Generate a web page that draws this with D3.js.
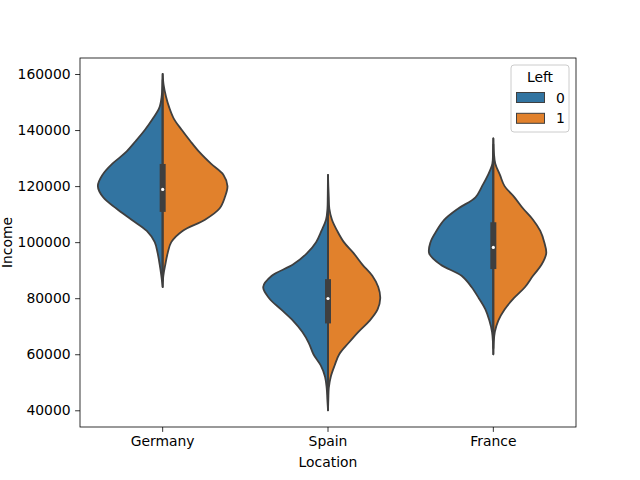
<!DOCTYPE html>
<html lang="en">
  <head>
    <meta charset="UTF-8" />
    <title>Income by location, split violin</title>
    <script src="https://d3js.org/d3.v7.min.js"></script>
    <style>
      body { margin: 0; background: #fff; }
      text { font-family: "DejaVu Sans", sans-serif; fill: #000; }
    </style>
  </head>
  <body>
    <svg width="640" height="480"></svg>
    <script>
      // categories and legend groups
      const locations = ["Germany", "Spain", "France"];
      const leftGroups = ["0", "1"];
      const yTicks = [40000, 60000, 80000, 100000, 120000, 140000, 160000];
      const yDomain = [34036, 165714];

      // income levels where the violin outlines were read (per location)
      const germanyIncome = [84000, 88000, 92000, 96000, 100000, 104000, 108000, 112000, 116000, 120000,
        124000, 128000, 132000, 136000, 140000, 144000, 148000, 152000, 156000, 160000];
      const spainIncome = [40000, 44000, 48000, 52000, 56000, 60000, 64000, 68000, 72000, 76000, 80000,
        84000, 88000, 92000, 96000, 100000, 104000, 108000, 112000, 116000, 120000, 124000];
      const franceIncome = [60000, 64000, 68000, 72000, 76000, 80000, 84000, 88000, 92000, 96000,
        100000, 104000, 108000, 112000, 116000, 120000, 124000, 128000, 132000, 137000];

      // relative half-widths (density) for Left = 0 and Left = 1
      const germanyLeft0 = [0, 0.02, 0.045, 0.075, 0.12, 0.24, 0.47, 0.7, 0.9, 0.98,
        0.91, 0.76, 0.56, 0.41, 0.27, 0.15, 0.05, 0.015, 0.005, 0];
      const germanyLeft1 = [0, 0.01, 0.04, 0.075, 0.13, 0.3, 0.64, 0.86, 0.94, 0.98,
        0.92, 0.73, 0.56, 0.42, 0.29, 0.17, 0.1, 0.05, 0.015, 0];
      const spainLeft0 = [0, 0.01, 0.02, 0.045, 0.11, 0.22, 0.29, 0.39, 0.53, 0.71, 0.89,
        0.98, 0.85, 0.53, 0.32, 0.18, 0.1, 0.03, 0.008, 0.004, 0.002, 0];
      const spainLeft1 = [0, 0.005, 0.012, 0.042, 0.1, 0.17, 0.31, 0.46, 0.63, 0.75, 0.79,
        0.76, 0.67, 0.52, 0.39, 0.24, 0.14, 0.06, 0.02, 0.012, 0.005, 0];
      const franceLeft0 = [0, 0.005, 0.02, 0.06, 0.12, 0.22, 0.33, 0.48, 0.8, 0.97,
        0.95, 0.86, 0.74, 0.53, 0.27, 0.17, 0.08, 0.015, 0.005, 0];
      const franceLeft1 = [0, 0.005, 0.023, 0.075, 0.17, 0.31, 0.48, 0.6, 0.73, 0.8,
        0.77, 0.71, 0.6, 0.45, 0.32, 0.17, 0.1, 0.03, 0.008, 0];

      // inner box statistics per location
      const boxQ1 = [110800, 71000, 90400];
      const boxQ3 = [127900, 86800, 107100];
      const boxMedian = [118800, 79900, 98100];
      const whiskerLow = [86000, 42000, 62000];
      const whiskerHigh = [158000, 122000, 135000];

      const colors = ["#3274a1", "#e1812c"];
      const edge = "#3f3f3f";

      const profiles = [
        { loc: "Germany", income: germanyIncome, sides: [germanyLeft0, germanyLeft1] },
        { loc: "Spain", income: spainIncome, sides: [spainLeft0, spainLeft1] },
        { loc: "France", income: franceIncome, sides: [franceLeft0, franceLeft1] },
      ];

      const svg = d3.select("svg");
      const margin = { left: 80, right: 64, top: 58, bottom: 53 };
      const W = 640, H = 480;

      const x = d3.scaleBand().domain(locations).range([margin.left, W - margin.right]).padding(0);
      const y = d3.scaleLinear().domain(yDomain).range([H - margin.bottom, margin.top]);
      const halfMax = x.bandwidth() * 0.4;

      // violins
      const g = svg.append("g").attr("class", "violins");
      profiles.forEach(function (p) {
        const cx = x(p.loc) + x.bandwidth() / 2;
        p.sides.forEach(function (w, i) {
          const dir = i === 0 ? -1 : 1;
          const pts = p.income.map((v, k) => ({ v: v, w: w[k] }));
          const area = d3.area()
            .y(d => y(d.v))
            .x0(cx)
            .x1(d => cx + dir * d.w * halfMax)
            .curve(d3.curveCatmullRom);
          g.append("path")
            .attr("d", area(pts))
            .attr("fill", colors[i])
            .attr("stroke", edge)
            .attr("stroke-width", 1.8)
            .attr("stroke-linejoin", "round");
        });
      });

      // inner box
      const box = svg.append("g").attr("class", "box");
      locations.forEach(function (loc, i) {
        const cx = x(loc) + x.bandwidth() / 2;
        box.append("line")
          .attr("x1", cx).attr("x2", cx)
          .attr("y1", y(whiskerLow[i])).attr("y2", y(whiskerHigh[i]))
          .attr("stroke", edge).attr("stroke-width", 1.8);
        box.append("rect")
          .attr("x", cx - 3).attr("width", 6)
          .attr("y", y(boxQ3[i])).attr("height", y(boxQ1[i]) - y(boxQ3[i]))
          .attr("fill", edge);
        box.append("circle")
          .attr("cx", cx).attr("cy", y(boxMedian[i])).attr("r", 1.6)
          .attr("fill", "#fff");
      });

      // axes
      const xAxis = svg.append("g")
        .attr("transform", `translate(0,${H - margin.bottom})`)
        .call(d3.axisBottom(x).tickSize(4.9).tickPadding(4.5));
      const yAxis = svg.append("g")
        .attr("transform", `translate(${margin.left},0)`)
        .call(d3.axisLeft(y).tickValues(yTicks).tickFormat(d3.format("d")).tickSize(4.9).tickPadding(4.5));
      [xAxis, yAxis].forEach(a => {
        a.select(".domain").remove();
        a.selectAll("line").attr("stroke", "#000").attr("stroke-width", 0.8);
        a.selectAll("text").attr("font-size", 13.9).attr("font-family", "DejaVu Sans").attr("fill", "#000");
      });

      // frame
      svg.append("rect")
        .attr("x", margin.left).attr("y", margin.top)
        .attr("width", W - margin.left - margin.right)
        .attr("height", H - margin.top - margin.bottom)
        .attr("fill", "none").attr("stroke", "#000").attr("stroke-width", 0.8);

      // axis titles
      svg.append("text")
        .attr("x", (margin.left + W - margin.right) / 2).attr("y", 467)
        .attr("text-anchor", "middle").attr("font-size", 13.9)
        .text("Location");
      svg.append("text")
        .attr("transform", `translate(11.5,${(margin.top + H - margin.bottom) / 2}) rotate(-90)`)
        .attr("text-anchor", "middle").attr("font-size", 13.9)
        .text("Income");

      // legend
      const lg = svg.append("g").attr("transform", "translate(511,65)");
      lg.append("rect")
        .attr("width", 58).attr("height", 67).attr("rx", 3)
        .attr("fill", "#fff").attr("fill-opacity", 0.8)
        .attr("stroke", "#ccc").attr("stroke-width", 1);
      lg.append("text")
        .attr("x", 29).attr("y", 16.5).attr("text-anchor", "middle")
        .attr("font-size", 13.9).text("Left");
      leftGroups.forEach(function (lab, i) {
        lg.append("rect")
          .attr("x", 5.5).attr("y", 27.5 + i * 20.8)
          .attr("width", 28).attr("height", 10)
          .attr("fill", colors[i]).attr("stroke", edge).attr("stroke-width", 1);
        lg.append("text")
          .attr("x", 45).attr("y", 37.5 + i * 20.8)
          .attr("font-size", 13.9).text(lab);
      });
    </script>
  </body>
</html>
